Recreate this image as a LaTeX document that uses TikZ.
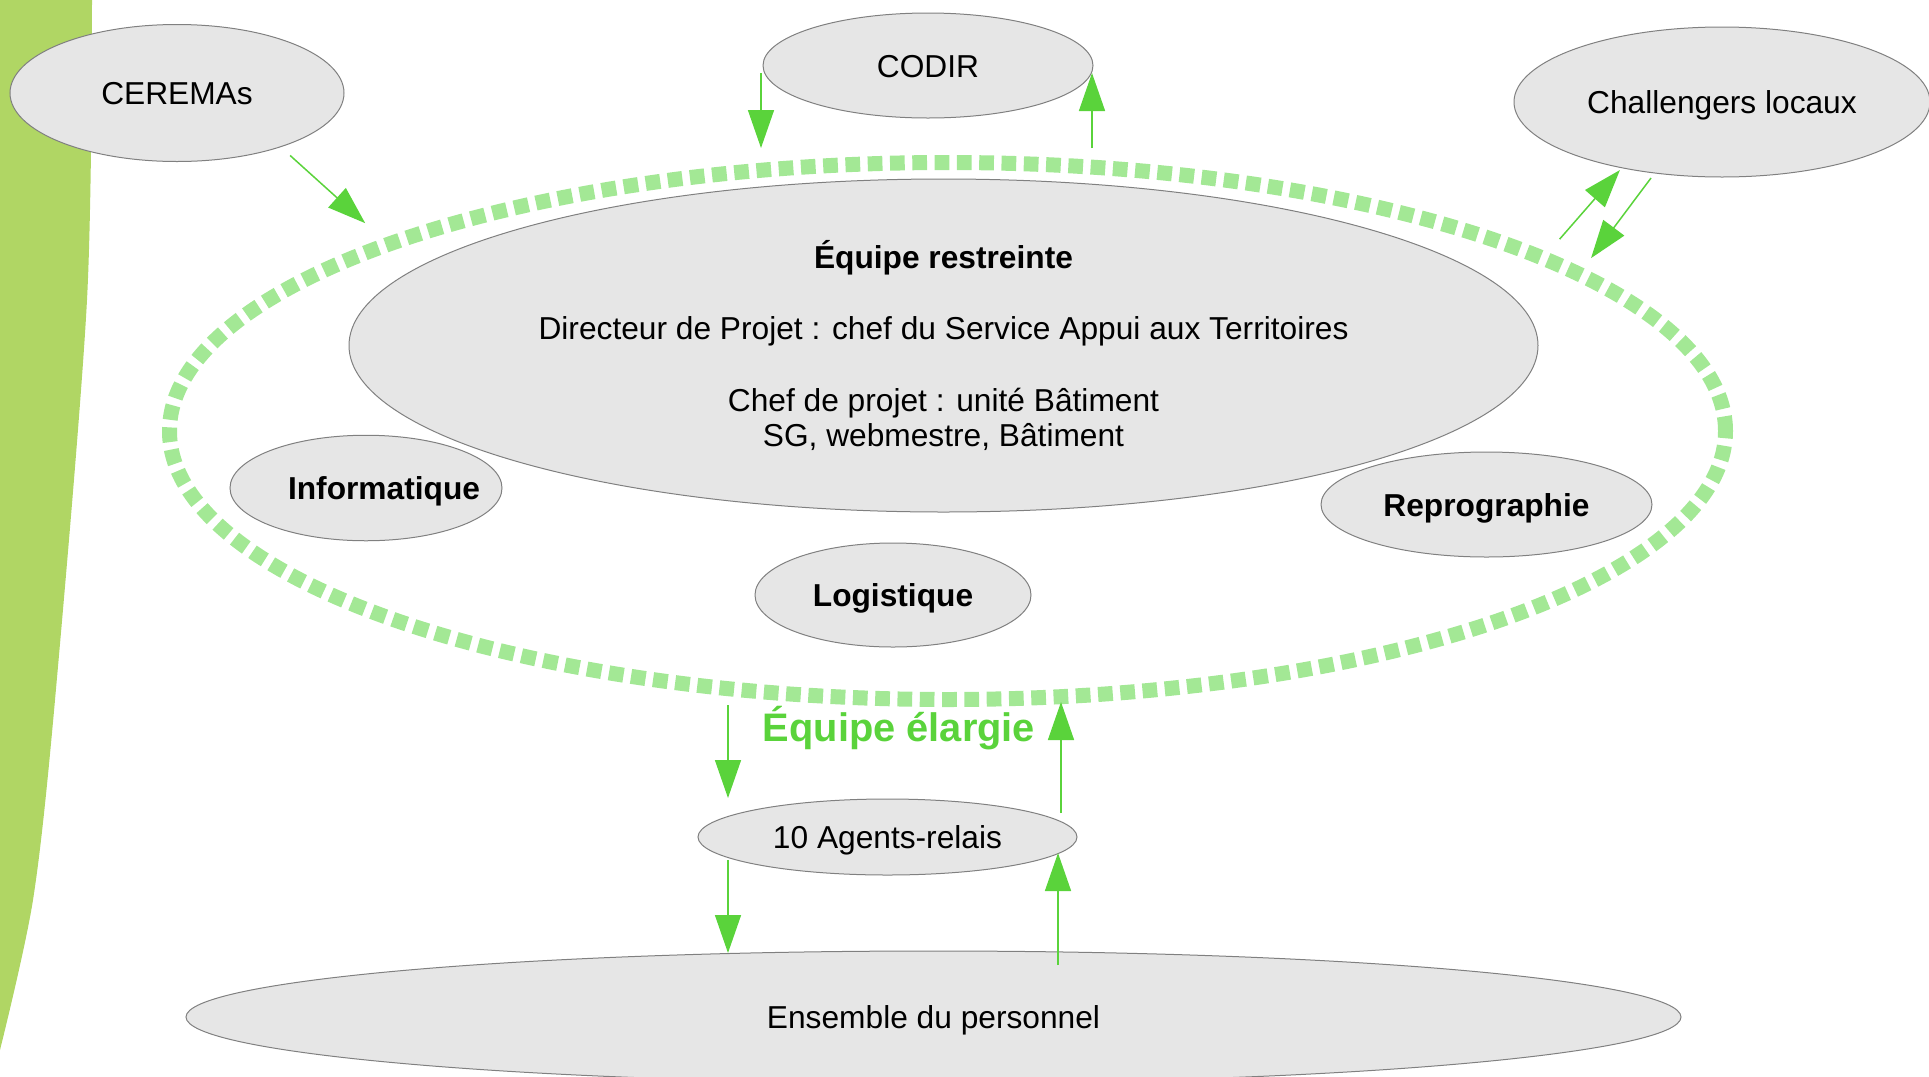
\documentclass[tikz,border=0pt]{standalone}
\usepackage{fontspec}
\setmainfont{Liberation Sans}
\usepackage{xcolor}
\usetikzlibrary{shapes.geometric}
\usetikzlibrary{arrows.meta}
\definecolor{blobfill}{HTML}{E6E6E6}
\definecolor{blobline}{HTML}{808080}
\definecolor{arrowgreen}{HTML}{5AD33B}
\definecolor{ringgreen}{HTML}{A3E895}
\definecolor{bandgreen}{HTML}{B0D664}

\begin{document}
\begin{tikzpicture}[x=0.5pt, y=-0.5pt,
    font=\fontsize{15.85pt}{17.5pt}\selectfont,
    blob/.style={ellipse, draw=blobline, fill=blobfill, line width=0.5pt, inner sep=0pt, outer sep=0pt},
    oneline/.style={text height=14.8pt, text depth=3pt},
    ringline/.style={ellipse, draw=ringgreen, line width=7.5pt, inner sep=0pt, outer sep=0pt,
        dash pattern=on 7.35pt off 3.8pt},
    flow/.style={draw=arrowgreen, line width=0.75pt, -{Triangle[length=19pt, width=13pt]}}]
    \useasboundingbox (0,0) rectangle (1929,1077);
    % green band on the left side
    \fill[bandgreen] (0,0) -- plot[smooth] coordinates {(92,0) (87,300) (55,700) (33,900) (0,1050)} -- cycle;

    \node[ringline, minimum width=778pt, minimum height=268.5pt] (ring) at (947.5,431) {};

    \node[blob, oneline, minimum width=167pt, minimum height=68.5pt] (cerema) at (177,93) {CEREMAs};
    \node[blob, oneline, minimum width=165pt, minimum height=52.5pt] (codir) at (928,65.5) {CODIR};
    \node[blob, oneline, minimum width=208pt, minimum height=75pt] (challenger) at (1722,102) {Challengers locaux};
    \node[blob, minimum width=594.5pt, minimum height=166.5pt, align=center] (restreinte) at (943.5,345.5)
        {{\bfseries Équipe restreinte}\\[18pt]
         Directeur de Projet : chef du Service Appui aux Territoires\\[18.5pt]
         Chef de projet : unité Bâtiment\\
         SG, webmestre, Bâtiment};
    \node[blob, minimum width=136pt, minimum height=52.75pt,
        label={[oneline, xshift=9pt, font=\fontsize{15.85pt}{17.5pt}\selectfont\bfseries]center:Informatique}] (informatique) at (366,488) {};
    \node[blob, oneline, minimum width=165.5pt, minimum height=52.5pt, font=\fontsize{15.85pt}{17.5pt}\selectfont\bfseries] (repro) at (1486.5,504.5) {Reprographie};
    \node[blob, oneline, minimum width=138pt, minimum height=52pt, font=\fontsize{15.85pt}{17.5pt}\selectfont\bfseries] (logistique) at (893,595) {Logistique};
    \node[text=arrowgreen, font=\fontsize{19.9pt}{22pt}\selectfont\bfseries] (elargie) at (899,728) {Équipe élargie};
    \node[blob, oneline, minimum width=189.5pt, minimum height=38pt] (agents) at (887.5,837) {10 Agents-relais};
    \node[blob, oneline, minimum width=747.5pt, minimum height=66pt] (ensemble) at (933.5,1017) {Ensemble du personnel};

    \draw[flow] ([shift={(-5,14)}]cerema.south east) -- ([shift={(-47,-13)}]ring.160);
    \draw[flow] ([shift={(-2,7.5)}]codir.west) -- ([shift={(-186.5,-14.5)}]ring.north);
    \draw[flow] ([shift={(144.5,-14.5)}]ring.north) -- ([shift={(-1,7.5)}]codir.east);
    \draw[flow] ([shift={(62,-2)}]ring.north east) -- ([shift={(45,15)}]challenger.south west);
    \draw[flow] ([shift={(-71,1)}]challenger.south) -- ([shift={(93.4,17)}]ring.north east);
    \draw[flow] ([shift={(-219.5,5.5)}]ring.south) -- ([shift={(-159.5,-1)}]agents.north);
    \draw[flow] ([shift={(-16,-24)}]agents.east) -- ([shift={(113.5,2.5)}]ring.south);
    \draw[flow] ([shift={(-159.5,-15)}]agents.south) -- ([shift={(-205.5,2)}]ensemble.north);
    \draw[flow] ([shift={(124.5,14)}]ensemble.north) -- ([shift={(-19,16)}]agents.east);
\end{tikzpicture}
\end{document}
